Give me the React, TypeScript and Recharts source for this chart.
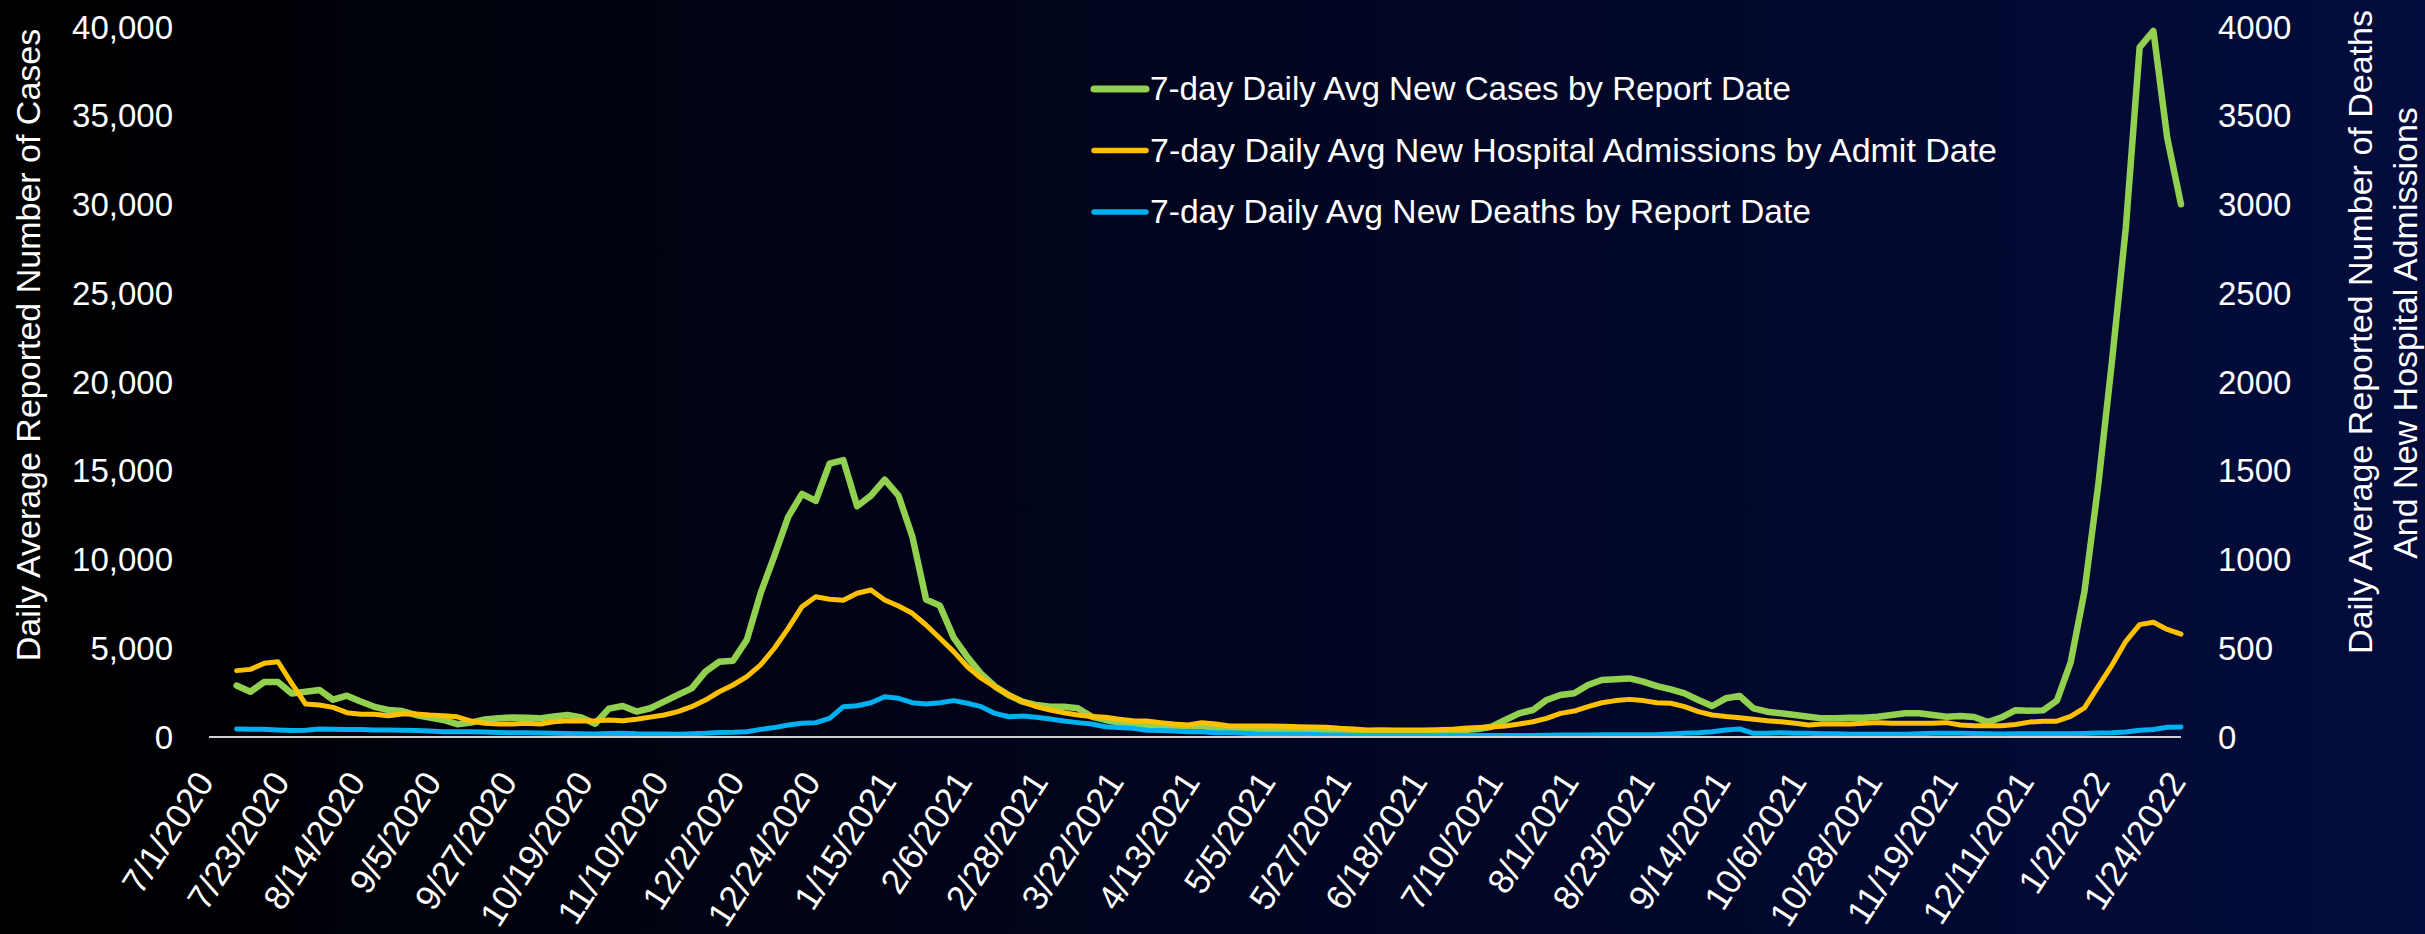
import { LineChart, Line, XAxis, YAxis, Legend } from 'recharts';

// 7-day averages, one point every 4 days, starting 7/9/2020 (day 8 after 7/1/2020)
const FIRST_DAY = 8;
const STEP_DAYS = 4;

const CASES = [
  2900, 2550, 3100, 3100, 2450, 2550, 2650, 2100, 2330, 2000,
  1700, 1520, 1460, 1240, 1090, 960, 720, 810, 990, 1050,
  1100, 1090, 1050, 1150, 1240, 1100, 750, 1600, 1750, 1430,
  1620, 1990, 2370, 2740, 3680, 4240, 4300, 5470, 8100, 10200,
  12400, 13700, 13300, 15400, 15600, 13000, 13600, 14500, 13600, 11300,
  7750, 7400, 5600, 4500, 3550, 2850, 2350, 1990, 1800, 1710,
  1710, 1620, 1150, 960, 810, 730, 620, 600, 600, 600,
  620, 490, 450, 450, 450, 400, 400, 380, 360, 300,
  300, 280, 250, 250, 250, 250, 270, 300, 300, 400,
  450, 580, 960, 1330, 1520, 2085, 2365, 2460, 2930, 3210,
  3250, 3300, 3115, 2870, 2685, 2460, 2085, 1745, 2180, 2310,
  1615, 1425, 1335, 1240, 1145, 1050, 1050, 1090, 1090, 1145,
  1240, 1335, 1335, 1240, 1145, 1180, 1130, 840, 1110, 1510,
  1480, 1500, 2045, 4200, 8200, 14200, 21200, 28700, 38850, 39780,
  33760, 30010,
];

const ADMISSIONS = [
  374, 381, 415, 424, 302, 186, 180, 167, 137, 128,
  128, 120, 130, 130, 124, 120, 114, 90, 77, 73,
  73, 77, 73, 86, 92, 90, 92, 96, 92, 100,
  112, 124, 143, 171, 208, 255, 293, 340, 406, 500,
  612, 734, 790, 776, 770, 810, 828, 772, 738, 697,
  631, 556, 481, 396, 331, 283, 237, 199, 171, 152,
  137, 124, 115, 111, 100, 92, 90, 81, 73, 68,
  81, 73, 62, 62, 62, 62, 60, 58, 56, 55,
  49, 45, 39, 41, 39, 39, 39, 41, 43, 49,
  53, 56, 62, 73, 86, 105, 133, 146, 171, 193,
  205, 212, 205, 193, 190, 171, 143, 124, 115, 109,
  100, 92, 86, 77, 68, 73, 73, 73, 77, 81,
  77, 77, 77, 77, 81, 68, 64, 63, 63, 70,
  84, 89, 89, 116, 164, 285, 405, 539, 633, 646,
  606, 579,
];

const DEATHS = [
  45, 44, 44, 40, 36, 38, 45, 44, 42, 42,
  40, 40, 38, 36, 34, 30, 30, 30, 28, 26,
  24, 24, 22, 21, 20, 18, 17, 20, 21, 18,
  17, 17, 16, 18, 21, 26, 27, 30, 43, 53,
  68, 77, 81, 105, 171, 176, 193, 227, 218, 193,
  186, 193, 205, 190, 171, 133, 114, 118, 111, 101,
  90, 81, 73, 58, 53, 49, 38, 36, 34, 30,
  30, 24, 24, 21, 17, 16, 15, 15, 14, 11,
  11, 9, 8, 8, 8, 8, 8, 8, 8, 8,
  8, 8, 8, 8, 8, 10, 11, 11, 11, 12,
  12, 13, 13, 14, 17, 21, 24, 30, 39, 45,
  21, 21, 24, 21, 21, 18, 18, 16, 16, 16,
  16, 16, 18, 21, 21, 21, 20, 18, 17, 18,
  18, 18, 18, 18, 20, 22, 24, 28, 38, 42,
  55, 57,
];

const TICK_STEP = 22;
const TICK_LABELS = [
  '7/1/2020', '7/23/2020', '8/14/2020', '9/5/2020', '9/27/2020', '10/19/2020',
  '11/10/2020', '12/2/2020', '12/24/2020', '1/15/2021', '2/6/2021', '2/28/2021',
  '3/22/2021', '4/13/2021', '5/5/2021', '5/27/2021', '6/18/2021', '7/10/2021',
  '8/1/2021', '8/23/2021', '9/14/2021', '10/6/2021', '10/28/2021', '11/19/2021',
  '12/11/2021', '1/2/2022', '1/24/2022',
];

const LEFT_TICKS = [0, 5000, 10000, 15000, 20000, 25000, 30000, 35000, 40000];
const RIGHT_TICKS = [0, 500, 1000, 1500, 2000, 2500, 3000, 3500, 4000];

const SERIES = [
  { key: 'cases', name: '7-day Daily Avg New Cases by Report Date', color: '#92D050', width: 6.5, textLen: 641 },
  { key: 'admissions', name: '7-day Daily Avg New Hospital Admissions by Admit Date', color: '#FFC000', width: 5, textLen: 847 },
  { key: 'deaths', name: '7-day Daily Avg New Deaths by Report Date', color: '#00B0F0', width: 5, textLen: 661 },
];

const FONT = '"Liberation Sans", Arial, sans-serif';

const data = CASES.map((c, i) => ({
  day: FIRST_DAY + i * STEP_DAYS,
  cases: c,
  admissions: ADMISSIONS[i],
  deaths: DEATHS[i],
}));

const xTicks = TICK_LABELS.map((_, i) => i * TICK_STEP);

function DateTick(props: any) {
  const { x, y, payload } = props;
  const label = TICK_LABELS[Math.round(payload.value / TICK_STEP)];
  return (
    <text
      transform={`translate(${x + 6},${y + 45}) rotate(-57)`}
      textAnchor="end"
      fill="#ffffff"
      fontSize={35}
      fontFamily={FONT}
    >
      {label}
    </text>
  );
}

function LegendBox() {
  return (
    <svg width={960} height={180}>
      {SERIES.map((s, i) => (
        <g key={s.key}>
          <line
            x1={6}
            x2={58}
            y1={29 + i * 61.5}
            y2={29 + i * 61.5}
            stroke={s.color}
            strokeWidth={i === 0 ? 7 : 5.5}
            strokeLinecap="round"
          />
          <text
            x={62}
            y={40 + i * 61.5}
            fill="#ffffff"
            fontSize={33}
            fontFamily={FONT}
            textLength={s.textLen}
            lengthAdjust="spacingAndGlyphs"
          >
            {s.name}
          </text>
        </g>
      ))}
    </svg>
  );
}

function Titles() {
  return (
    <svg
      width={2425}
      height={934}
      style={{ position: 'absolute', left: 0, top: 0, pointerEvents: 'none' }}
    >
      <text
        transform="translate(40,345) rotate(-90)"
        textAnchor="middle"
        fill="#ffffff"
        fontSize={34}
        fontFamily={FONT}
      >
        Daily Average Reported Number of Cases
      </text>
      <text
        transform="translate(2372,332) rotate(-90)"
        textAnchor="middle"
        fill="#ffffff"
        fontSize={34}
        fontFamily={FONT}
      >
        Daily Average Reported Number of Deaths
      </text>
      <text
        transform="translate(2417,333) rotate(-90)"
        textAnchor="middle"
        fill="#ffffff"
        fontSize={34}
        fontFamily={FONT}
      >
        And New Hospital Admissions
      </text>
    </svg>
  );
}

export default function App() {
  return (
    <div
      style={{
        position: 'absolute',
        left: 0,
        top: 0,
        width: 2425,
        height: 934,
        background: 'linear-gradient(90deg, #000000 0%, #01051f 50%, #030c3c 100%)',
      }}
    >
      <LineChart
        width={2425}
        height={934}
        data={data}
        margin={{ top: 27, right: 0, bottom: 0, left: 0 }}
      >
        <XAxis
          dataKey="day"
          type="number"
          domain={[0, 572]}
          ticks={xTicks}
          interval={0}
          height={197}
          tickLine={false}
          tickSize={0}
          tickMargin={0}
          axisLine={{ stroke: '#d0d0d0', strokeWidth: 2 }}
          tick={<DateTick />}
        />
        <YAxis
          yAxisId="left"
          orientation="left"
          width={209}
          domain={[0, 40000]}
          ticks={LEFT_TICKS}
          interval={0}
          axisLine={false}
          tickLine={false}
          tickSize={0}
          tickMargin={36}
          tick={{ fill: '#ffffff', fontSize: 33, fontFamily: FONT }}
          tickFormatter={(v: number) => v.toLocaleString('en-US')}
        />
        <YAxis
          yAxisId="right"
          orientation="right"
          width={244}
          domain={[0, 4000]}
          ticks={RIGHT_TICKS}
          interval={0}
          axisLine={false}
          tickLine={false}
          tickSize={0}
          tickMargin={37}
          tick={{ fill: '#ffffff', fontSize: 33, fontFamily: FONT }}
        />
        <Legend
          layout="vertical"
          align="center"
          verticalAlign="middle"
          wrapperStyle={{ left: 1088, top: 60, width: 960, height: 180 }}
          content={() => <LegendBox />}
        />
        {SERIES.map((s) => (
          <Line
            key={s.key}
            yAxisId={s.key === 'cases' ? 'left' : 'right'}
            type="linear"
            dataKey={s.key}
            name={s.name}
            stroke={s.color}
            strokeWidth={s.width}
            strokeLinejoin="round"
            strokeLinecap="round"
            dot={false}
            activeDot={false}
            isAnimationActive={false}
          />
        ))}
      </LineChart>
      <Titles />
    </div>
  );
}
